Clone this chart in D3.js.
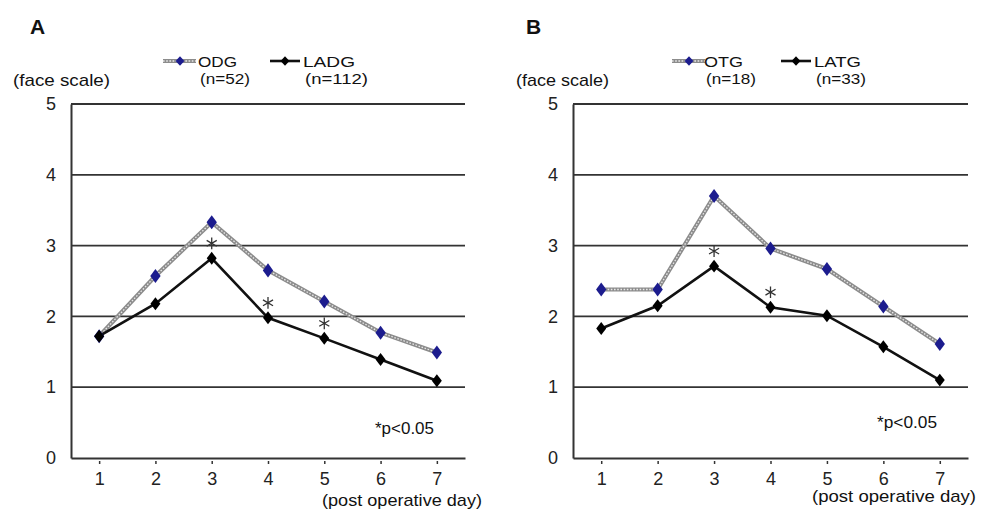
<!DOCTYPE html>
<html><head><meta charset="utf-8">
<script src="https://cdn.jsdelivr.net/npm/d3@7"></script>
<style>body{margin:0;background:#fff}svg{display:block}text{font-family:"Liberation Sans",Arial,sans-serif}</style>
</head><body>
<svg id="c" width="987" height="512"></svg>
<script>
const days = [1,2,3,4,5,6,7];
const yTicks = [0,1,2,3,4,5];
const odg  = [1.72,2.57,3.33,2.65,2.21,1.77,1.49];
const ladg = [1.72,2.18,2.82,1.98,1.69,1.39,1.09];
const otg  = [2.38,2.38,3.70,2.96,2.67,2.14,1.61];
const latg = [1.83,2.15,2.71,2.13,2.01,1.57,1.10];
const sigA = [3,4,5];
const sigB = [3,4];
const panelLabels = ["A","B"];
const legendA = [["ODG","(n=52)"],["LADG","(n=112)"]];
const legendB = [["OTG","(n=18)"],["LATG","(n=33)"]];
const yTitle = "(face scale)";
const xTitle = "(post operative day)";
const pNote = "*p<0.05";

const svg = d3.select("#c");

function txt(g, x, y, s, size, w, opts={}){
  const t = g.append("text").attr("x",x).attr("y",y).attr("font-size",size)
    .attr("fill","#111").text(s);
  if(w){ t.attr("textLength",w).attr("lengthAdjust","spacingAndGlyphs"); }
  if(opts.weight) t.attr("font-weight",opts.weight);
  return t;
}

function panel(o){
  const g = svg.append("g");
  const x = d3.scalePoint().domain(days).range([o.x0, o.x1]).padding(0.5);
  const y = d3.scaleLinear().domain([0,5]).range([458,104]);
  g.selectAll(".grid").data(yTicks.filter(d=>d>0)).join("line")
    .attr("x1",o.x0).attr("x2",o.x1).attr("y1",d=>y(d)).attr("y2",d=>y(d))
    .attr("stroke","#333").attr("stroke-width",1.8);
  const ya = g.append("g").attr("transform",`translate(${o.x0},0)`)
    .call(d3.axisLeft(y).tickValues(yTicks).tickFormat(d3.format("d")).tickSize(0).tickPadding(15));
  ya.select(".domain").attr("stroke","#333").attr("stroke-width",2);
  ya.selectAll("text").attr("font-size",18).attr("fill","#222");
  const xa = g.append("g").attr("transform",`translate(0,${y(0)})`)
    .call(d3.axisBottom(x).tickSize(-3).tickPadding(14).tickSizeOuter(0));
  xa.select(".domain").attr("stroke","#333").attr("stroke-width",2);
  xa.selectAll("line").attr("stroke","#333").attr("stroke-width",1.5).attr("transform","translate(0,6)");
  xa.selectAll("text").attr("font-size",18).attr("fill","#222");

  const line = d3.line().x((d,i)=>x(days[i])).y(d=>y(d));
  g.append("path").datum(o.open).attr("d",line).attr("fill","none")
    .attr("stroke","#8c8c8c").attr("stroke-width",4.2);
  g.append("path").datum(o.open).attr("d",line).attr("fill","none")
    .attr("stroke","#e8e8e8").attr("stroke-width",1.3).attr("stroke-dasharray","1.6,1.6");
  g.append("path").datum(o.lap).attr("d",line).attr("fill","none")
    .attr("stroke","#111").attr("stroke-width",2.6);
  const diamond = d3.symbol().type(d3.symbolDiamond);
  g.selectAll(".mo").data(o.open).join("path")
    .attr("d",diamond.size(70)).attr("transform",(d,i)=>`translate(${x(days[i])},${y(d)}) scale(1.15,0.9)`)
    .attr("fill","#1c1c8e");
  g.selectAll(".ml").data(o.lap).join("path")
    .attr("d",diamond.size(60)).attr("transform",(d,i)=>`translate(${x(days[i])},${y(d)}) scale(1.2,0.9)`)
    .attr("fill","#000");
  const ast = d3.symbol().type(d3.symbolAsterisk).size(95);
  g.selectAll(".sig").data(o.sig).join("path")
    .attr("d",ast)
    .attr("transform",d=>`translate(${x(d)},${y(o.lap[days.indexOf(d)])-15})`)
    .attr("fill","none").attr("stroke","#333").attr("stroke-width",1.3);
  txt(g, o.px, o.py, pNote, 17, o.pw);
  txt(g, o.dx, o.dy, xTitle, 17, o.dw);
  txt(g, o.fx, 86, yTitle, 17, o.fw);
  txt(g, o.lx, 34, o.label, 21, null, {weight:"bold"});
  o.legend.forEach((L,i)=>{
    const lx = o.legX[i];
    if(i===0){
      g.append("line").attr("x1",lx).attr("x2",lx+33).attr("y1",61).attr("y2",61)
        .attr("stroke","#8c8c8c").attr("stroke-width",4.2);
      g.append("line").attr("x1",lx).attr("x2",lx+33).attr("y1",61).attr("y2",61)
        .attr("stroke","#e8e8e8").attr("stroke-width",1.3).attr("stroke-dasharray","1.6,1.6");
      g.append("path").attr("d",diamond.size(40)).attr("transform",`translate(${lx+17},61) scale(1.3,0.8)`).attr("fill","#1c1c8e");
    } else {
      g.append("line").attr("x1",lx).attr("x2",lx+30).attr("y1",61).attr("y2",61)
        .attr("stroke","#111").attr("stroke-width",2.6);
      g.append("path").attr("d",diamond.size(40)).attr("transform",`translate(${lx+15},61) scale(1.3,0.8)`).attr("fill","#000");
    }
    txt(g, o.legT[i][0], 67, L[0], 15.5, o.legT[i][1]);
    txt(g, o.legT[i][2], 84, L[1], 15.5, o.legT[i][3]);
  });
}

panel({x0:71,x1:465,open:odg,lap:ladg,sig:sigA,
  px:375,py:434,pw:59, dx:322,dy:506,dw:160, fx:13,fw:97, lx:30,label:panelLabels[0],
  legend:legendA,legX:[163,270],legT:[[198,39,200,50],[303,52,305,63]]});
panel({x0:573,x1:968,open:otg,lap:latg,sig:sigB,
  px:877,py:428,pw:60, dx:812,dy:502,dw:164, fx:516,fw:93, lx:526,label:panelLabels[1],
  legend:legendB,legX:[672,781],legT:[[704,39,706,50],[814,47,816,50]]});
</script>
</body></html>
